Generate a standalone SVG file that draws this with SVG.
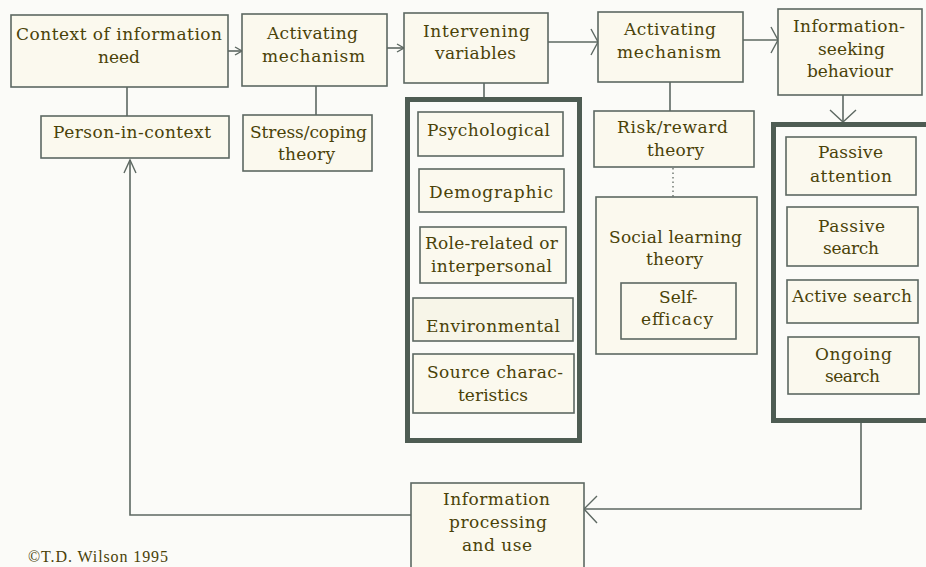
<svg xmlns="http://www.w3.org/2000/svg" width="926" height="567" viewBox="0 0 926 567">
<style>
.bg{fill:#fbfbf8}
.box{fill:#fbf9ee;stroke:#5d6862;stroke-width:1.6}
.frame{fill:none;stroke:#4e5c53;stroke-width:5}
.t{font-family:"DejaVu Serif","Liberation Serif",serif;font-size:17px;fill:#4a4208}
.c{font-family:"Liberation Serif","DejaVu Serif",serif;font-size:16px;fill:#4a4208}
.ln{fill:none;stroke:#5d6862;stroke-width:1.6}
.dot{fill:none;stroke:#6a726c;stroke-width:1.4;stroke-dasharray:1.5 3}
.ah{fill:none;stroke:#5d6862;stroke-width:1.4}
</style>
<rect class="bg" x="0" y="0" width="926" height="567"/>

<g id="connectors">
<line class="ln" x1="228" y1="51" x2="242" y2="51"/>
<polyline class="ah" points="235,47 242,51 235,55"/>
<line class="ln" x1="387" y1="48" x2="404" y2="48"/>
<polyline class="ah" points="397,44 404,48 397,52"/>
<line class="ln" x1="548" y1="42" x2="598" y2="42"/>
<polyline class="ah" points="591,29 598,42 591,55"/>
<line class="ln" x1="743" y1="40" x2="778" y2="40"/>
<polyline class="ah" points="771,27 778,40 771,53"/>
<line class="ln" x1="843" y1="95" x2="843" y2="122"/>
<polyline class="ah" points="830,110 843,122 856,110"/>
<polyline class="ln" points="861,423 861,509 584,509"/>
<polyline class="ah" points="597,496 584,509 597,523"/>
<polyline class="ln" points="411,515 130,515 130,160"/>
<polyline class="ah" points="124,173 130,160 136,173"/>
<line class="ln" x1="127" y1="87" x2="127" y2="116"/>
<line class="ln" x1="316" y1="86" x2="316" y2="115"/>
<line class="ln" x1="484" y1="83" x2="484" y2="97"/>
<line class="ln" x1="670" y1="82" x2="670" y2="111"/>
<line class="dot" x1="673" y1="168" x2="673" y2="197"/>
</g>

<g id="context">
<rect class="box" x="11" y="15" width="217" height="72"/>
<text class="t" x="16" y="40" textLength="206">Context of information</text>
<text class="t" x="98" y="63" textLength="42">need</text>
</g>
<g id="activating1">
<rect class="box" x="242" y="14" width="145" height="72"/>
<text class="t" x="267" y="39" textLength="91">Activating</text>
<text class="t" x="262" y="62" textLength="103">mechanism</text>
</g>
<g id="person">
<rect class="box" x="41" y="116" width="188" height="42"/>
<text class="t" x="53" y="138" textLength="158">Person-in-context</text>
</g>
<g id="stress">
<rect class="box" x="243" y="115" width="129" height="56"/>
<text class="t" x="250" y="138" textLength="117">Stress/coping</text>
<text class="t" x="278" y="160" textLength="57">theory</text>
</g>
<g id="intervening">
<rect class="box" x="404" y="13" width="144" height="70"/>
<text class="t" x="423" y="37" textLength="107">Intervening</text>
<text class="t" x="435" y="59" textLength="81">variables</text>
</g>
<g id="variables-frame">
<rect class="frame" x="407.5" y="99.5" width="172" height="341"/>
</g>
<g id="psychological">
<rect class="box" x="418" y="112" width="145" height="44"/>
<text class="t" x="427" y="136" textLength="123">Psychological</text>
</g>
<g id="demographic">
<rect class="box" x="419" y="169" width="145" height="43"/>
<text class="t" x="429" y="198" textLength="124">Demographic</text>
</g>
<g id="role">
<rect class="box" x="420" y="227" width="146" height="56"/>
<text class="t" x="425" y="249" textLength="133">Role-related or</text>
<text class="t" x="431" y="272" textLength="121">interpersonal</text>
</g>
<g id="environmental">
<rect class="box" x="413" y="298" width="160" height="43" style="fill:#f7f5e8"/>
<text class="t" x="426" y="332" textLength="134">Environmental</text>
</g>
<g id="source">
<rect class="box" x="413" y="354" width="161" height="59"/>
<text class="t" x="427" y="378" textLength="136">Source charac-</text>
<text class="t" x="458" y="401" textLength="70">teristics</text>
</g>
<g id="activating2">
<rect class="box" x="598" y="12" width="145" height="70"/>
<text class="t" x="624" y="35" textLength="92">Activating</text>
<text class="t" x="617" y="58" textLength="104">mechanism</text>
</g>
<g id="risk">
<rect class="box" x="594" y="111" width="160" height="56"/>
<text class="t" x="617" y="133" textLength="111">Risk/reward</text>
<text class="t" x="647" y="156" textLength="57">theory</text>
</g>
<g id="social">
<rect class="box" x="596" y="197" width="161" height="157"/>
<text class="t" x="609" y="243" textLength="133">Social learning</text>
<text class="t" x="646" y="265" textLength="57">theory</text>
</g>
<g id="selfefficacy">
<rect class="box" x="621" y="283" width="115" height="56"/>
<text class="t" x="659" y="303">Self-</text>
<text class="t" x="641" y="325" textLength="72">efficacy</text>
</g>
<g id="seeking">
<rect class="box" x="778" y="9" width="144" height="86"/>
<text class="t" x="793" y="32" textLength="112">Information-</text>
<text class="t" x="818" y="55" textLength="67">seeking</text>
<text class="t" x="807" y="77" textLength="86">behaviour</text>
</g>
<g id="behaviour-frame">
<rect class="frame" x="773.5" y="124.5" width="175" height="296"/>
</g>
<g id="passive-attention">
<rect class="box" x="786" y="137" width="130" height="58"/>
<text class="t" x="818" y="158" textLength="65">Passive</text>
<text class="t" x="810" y="182" textLength="82">attention</text>
</g>
<g id="passive-search">
<rect class="box" x="787" y="207" width="131" height="59"/>
<text class="t" x="818" y="232" textLength="67">Passive</text>
<text class="t" x="823" y="254" textLength="56">search</text>
</g>
<g id="active-search">
<rect class="box" x="787" y="280" width="131" height="43"/>
<text class="t" x="792" y="302" textLength="120">Active search</text>
</g>
<g id="ongoing-search">
<rect class="box" x="788" y="337" width="131" height="57"/>
<text class="t" x="815" y="360" textLength="77">Ongoing</text>
<text class="t" x="825" y="382" textLength="55">search</text>
</g>
<g id="processing">
<rect class="box" x="411" y="483" width="173" height="92"/>
<text class="t" x="443" y="505" textLength="107">Information</text>
<text class="t" x="449" y="528" textLength="98">processing</text>
<text class="t" x="462" y="551" textLength="70">and use</text>
</g>
<text class="c" x="28" y="562" textLength="140">©T.D. Wilson 1995</text>
</svg>
